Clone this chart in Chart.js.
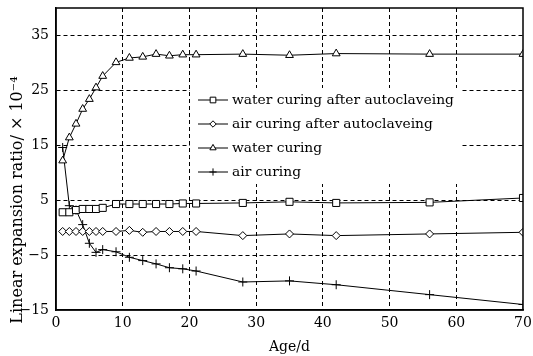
<!DOCTYPE html>
<html>
<head>
<meta charset="utf-8">
<script src="https://cdn.jsdelivr.net/npm/chart.js@4/dist/chart.umd.min.js"></script>
<style>
  html, body { margin: 0; padding: 0; background: #fff; }
  #wrap { width: 533px; height: 356px; }
</style>
</head>
<body>
<div id="wrap"><canvas id="expChart" width="533" height="356"></canvas></div>
<script>
// ages (days) and measured linear expansion ratio (x 10^-4)
var ages = [1, 2, 3, 4, 5, 6, 7, 9, 11, 13, 15, 17, 19, 21, 28, 35, 42, 56, 70];
var waterAfterAuto = [2.8, 2.8, 3.2, 3.4, 3.4, 3.4, 3.6, 4.3, 4.3, 4.3, 4.3, 4.3, 4.4, 4.4, 4.5, 4.7, 4.5, 4.6, 5.4];
var airAfterAuto = [-0.7, -0.7, -0.7, -0.7, -0.7, -0.7, -0.7, -0.7, -0.5, -0.85, -0.7, -0.7, -0.7, -0.7, -1.45, -1.15, -1.45, -1.15, -0.85];
var waterCuring = [12.2, 16.4, 18.9, 21.6, 23.4, 25.5, 27.6, 30.1, 30.9, 31.1, 31.6, 31.3, 31.5, 31.5, 31.6, 31.4, 31.7, 31.6, 31.6];
var airCuring = [14.6, 4.0, 3.2, 0.55, -2.85, -4.5, -4.0, -4.4, -5.4, -6.0, -6.6, -7.3, -7.5, -7.9, -9.9, -9.7, -10.4, -12.2, -14.0];

var seriesLabels = ['water curing after autoclaveing', 'air curing after autoclaveing', 'water curing', 'air curing'];
var xTicks = [0, 10, 20, 30, 40, 50, 60, 70];
var yTicks = [-15, -5, 5, 15, 25, 35];
var xTitle = 'Age/d';
var yTitle = 'Linear expansion ratio/ \u00d7 10\u207b\u2074';

var FONT = '"DejaVu Serif", "Liberation Serif", serif';

function toPoints(ys){
    var pts = [];
    for(var i = 0; i < ages.length; i++){
        pts.push({x: ages[i], y: ys[i]});
    }
    return pts;
}

function makeSet(label, ys, style, radius){
    return {
        label: label,
        data: toPoints(ys),
        borderColor: '#000',
        borderWidth: 1,
        pointStyle: style,
        pointRadius: radius,
        pointBorderColor: '#000',
        pointBackgroundColor: '#fff',
        pointBorderWidth: 1,
        tension: 0,
        fill: false
    };
}

// draw one marker (used for the legend samples)
function marker(ctx, style, x, y, r){
    ctx.beginPath();
    if(style == 'rect'){
        var s = Math.SQRT1_2 * r;
        ctx.rect(x - s, y - s, 2 * s, 2 * s);
    } else if(style == 'rectRot'){
        ctx.moveTo(x, y - r);
        ctx.lineTo(x + r, y);
        ctx.lineTo(x, y + r);
        ctx.lineTo(x - r, y);
        ctx.closePath();
    } else if(style == 'triangle'){
        var a = 2 * Math.PI / 3;
        ctx.moveTo(x, y - r);
        ctx.lineTo(x + Math.sin(a) * r, y - Math.cos(a) * r);
        ctx.lineTo(x - Math.sin(a) * r, y - Math.cos(a) * r);
        ctx.closePath();
    } else if(style == 'cross'){
        ctx.moveTo(x, y - r);
        ctx.lineTo(x, y + r);
        ctx.moveTo(x - r, y);
        ctx.lineTo(x + r, y);
    }
    if(style != 'cross'){
        ctx.fillStyle = '#fff';
        ctx.fill();
    }
    ctx.stroke();
}

var framePlugin = {
    id: 'frame',
    afterDatasetsDraw: function(chart){
        var ctx = chart.ctx;
        var a = chart.chartArea;
        ctx.save();

        // legend box inside the plot
        var bx = 190, by = 88, bw = 270, bh = 96;
        ctx.fillStyle = '#fff';
        ctx.fillRect(bx, by, bw, bh);
        ctx.strokeStyle = '#000';
        ctx.lineWidth = 1;
        ctx.font = '13.8px ' + FONT;
        ctx.textBaseline = 'middle';
        chart.data.datasets.forEach(function(ds, i){
            var ry = by + 12 + i * 24;
            ctx.beginPath();
            ctx.moveTo(bx + 8, ry);
            ctx.lineTo(bx + 38, ry);
            ctx.stroke();
            marker(ctx, ds.pointStyle, bx + 23, ry, ds.pointRadius * 0.8);
            ctx.fillStyle = '#000';
            ctx.textAlign = 'left';
            ctx.fillText(ds.label, bx + 42, ry);
        });

        // box round the plot
        ctx.strokeStyle = '#000';
        ctx.lineWidth = 1.5;
        ctx.strokeRect(a.left, a.top, a.right - a.left, a.bottom - a.top);

        // y axis title
        ctx.translate(18, 200);
        ctx.rotate(-Math.PI / 2);
        ctx.fillStyle = '#000';
        ctx.font = '16px ' + FONT;
        ctx.textAlign = 'center';
        ctx.textBaseline = 'middle';
        ctx.fillText(yTitle, 0, 0);
        ctx.restore();
    }
};

var expChart = new Chart(document.getElementById('expChart'), {
    type: 'line',
    data: {
        datasets: [
            makeSet(seriesLabels[0], waterAfterAuto, 'rect', 5),
            makeSet(seriesLabels[1], airAfterAuto, 'rectRot', 4),
            makeSet(seriesLabels[2], waterCuring, 'triangle', 4.5),
            makeSet(seriesLabels[3], airCuring, 'cross', 4.5)
        ]
    },
    options: {
        responsive: false,
        animation: false,
        layout: { padding: { top: 8, right: 10, left: 0, bottom: 0 } },
        plugins: {
            legend: { display: false },
            tooltip: { enabled: false }
        },
        scales: {
            x: {
                type: 'linear',
                min: 0,
                max: 70,
                afterBuildTicks: function(scale){
                    scale.ticks = xTicks.map(function(v){ return {value: v}; });
                },
                afterFit: function(scale){
                    scale.height = 46;
                    scale.paddingLeft = 0;
                    scale.paddingRight = 0;
                },
                grid: {
                    drawTicks: false,
                    color: function(c){ return (c.tick && (c.tick.value == 0 || c.tick.value == 70)) ? 'rgba(0,0,0,0)' : '#000'; },
                    lineWidth: 1
                },
                border: { display: true, color: '#000', width: 1.5, dash: [4, 3] },
                ticks: {
                    color: '#000',
                    padding: 5,
                    maxRotation: 0,
                    font: { family: FONT, size: 14 }
                },
                title: {
                    display: true,
                    text: xTitle,
                    color: '#000',
                    padding: { top: 0, bottom: 0 },
                    font: { family: FONT, size: 14 }
                }
            },
            y: {
                min: -15,
                max: 40,
                afterBuildTicks: function(scale){
                    scale.ticks = yTicks.map(function(v){ return {value: v}; });
                },
                afterFit: function(scale){
                    scale.width = 56;
                    scale.paddingTop = 0;
                    scale.paddingBottom = 0;
                },
                grid: {
                    drawTicks: false,
                    color: function(c){ return (c.tick && c.tick.value == -15) ? 'rgba(0,0,0,0)' : '#000'; },
                    lineWidth: 1
                },
                border: { display: true, color: '#000', width: 1.5, dash: [4, 3] },
                ticks: {
                    color: '#000',
                    padding: 7,
                    font: { family: FONT, size: 14 },
                    callback: function(v){ return v < 0 ? '\u2212' + Math.abs(v) : '' + v; }
                }
            }
        }
    },
    plugins: [framePlugin]
});
</script>
</body>
</html>
